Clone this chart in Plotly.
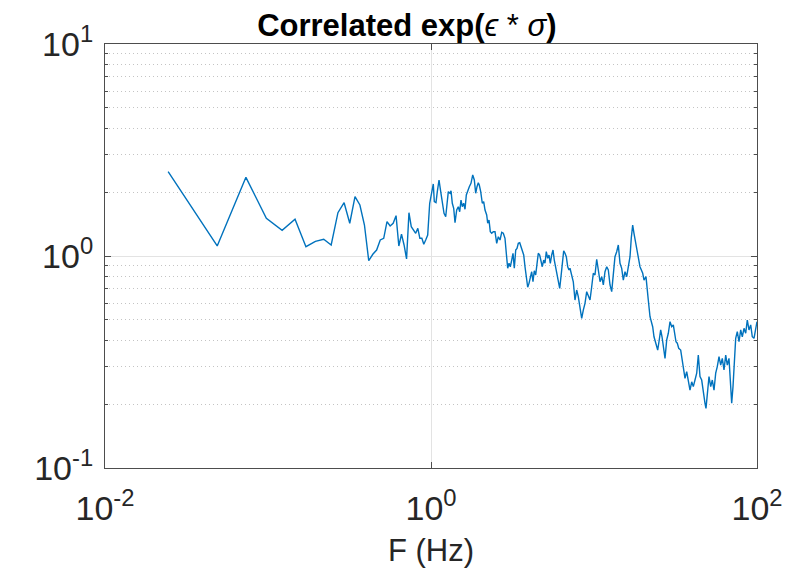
import plotly.graph_objects as go

# Low-frequency bins (Hz) and amplitudes
freq_low = [0.0244, 0.0488, 0.0732, 0.0977, 0.1221, 0.1465, 0.1709, 0.1953, 0.2197, 0.2441,
            0.2686, 0.2930, 0.3174, 0.3418, 0.3662, 0.3906, 0.4150, 0.4395, 0.4639, 0.4883,
            0.5127, 0.5371, 0.5615, 0.5859, 0.6104, 0.6348, 0.6592, 0.6836, 0.7080, 0.7324,
            0.7568, 0.7813, 0.8057, 0.8301, 0.8545, 0.8789, 0.9033, 0.9277]
amp_low = [2.50, 1.115, 2.35, 1.506, 1.322, 1.49, 1.106, 1.173, 1.199, 1.127,
           1.60, 1.784, 1.427, 1.905, 1.74, 1.40, 0.95, 1.019, 1.067, 1.19,
           1.212, 1.452, 1.385, 1.427, 1.55, 1.115, 1.266, 1.127, 0.968, 1.60,
           1.375, 1.326, 1.28, 1.351, 1.212, 1.212, 1.136, 1.19]

# Higher-frequency part (Hz) and amplitudes
freq_high = [0.9545, 0.9818, 1.010, 1.033, 1.048, 1.073, 1.093, 1.120, 1.147, 1.173,
             1.202, 1.231, 1.254, 1.277, 1.308, 1.327, 1.351, 1.378, 1.404, 1.438,
             1.471, 1.500, 1.528, 1.556, 1.587, 1.617, 1.647, 1.680, 1.718, 1.759,
             1.803, 1.844, 1.880, 1.915, 1.951, 1.978, 2.018, 2.064, 2.105, 2.145,
             2.196, 2.228, 2.269, 2.311, 2.357, 2.411,
             2.470, 2.530, 2.588, 2.651, 2.716, 2.777, 2.844, 2.897, 2.955, 3.010,
             3.065, 3.127, 3.185, 3.244, 3.309, 3.370, 3.433, 3.502, 3.566, 3.632,
             3.705, 3.773, 3.843, 3.920, 3.992, 4.066, 4.147, 4.224, 4.302, 4.388,
             4.469, 4.552, 4.643, 4.728, 4.816, 4.913, 5.004, 5.097, 5.200, 5.296,
             5.394, 5.502, 5.604, 5.707, 5.821, 5.929, 6.039, 6.160, 6.273, 6.390,
             6.518, 6.639, 6.763, 6.898, 7.025,
             7.125, 7.298, 7.464, 7.644, 7.831, 8.010, 8.205, 8.404, 8.597, 8.806,
             9.020, 9.226, 9.452, 9.681, 9.901, 10.14, 10.39, 10.63, 10.89, 11.15,
             11.41, 11.68, 11.97, 12.24, 12.54, 12.84, 13.14, 13.45, 13.78, 14.10,
             14.44, 14.79, 15.13, 15.50, 15.87, 16.23, 16.63, 16.93, 17.27, 17.59,
             17.92, 18.28, 18.70, 19.15,
             19.90, 20.27, 20.84, 21.23, 21.53, 22.06, 22.59, 22.91, 23.34, 24.01,
             24.59, 25.04, 25.65, 26.14, 26.62, 27.27, 27.93, 28.57, 29.27, 29.98,
             30.66, 31.27, 31.85, 32.43, 33.08, 34.03, 34.67, 35.31, 36.17, 37.04,
             37.89, 38.81, 39.76, 40.67, 41.65,
             42.67, 43.64, 44.70, 45.78, 46.83, 47.97, 48.65, 49.83, 50.76, 52.00,
             53.19, 54.48, 55.80, 57.07, 58.47, 59.88, 61.25, 62.74, 64.27, 65.74,
             67.33, 68.58, 69.95, 71.25, 72.57, 74.02, 75.71, 77.56, 79.43, 81.25,
             83.23, 85.25, 87.20, 89.31, 91.48, 93.58, 95.85, 98.17, 100.0]
amp_high = [1.256, 1.773, 2.048, 2.186, 1.804, 1.784, 2.011, 2.283, 2.011, 1.773,
            1.590, 1.532, 1.708, 2.011, 1.976, 2.032, 1.773, 1.679, 1.436, 1.648,
            1.708, 1.618, 1.837, 1.708, 1.773, 1.661, 1.940, 2.032, 2.123, 2.203,
            2.411, 2.283, 1.976, 2.123, 2.217, 2.162, 2.011, 1.773, 1.804, 1.648,
            1.561, 1.427, 1.479, 1.302, 1.280, 1.302,
            1.302, 1.148, 1.233, 1.190, 1.294, 1.280, 1.212, 1.030, 0.875, 0.924,
            0.890, 0.957, 1.030, 0.875, 1.067, 1.087, 1.148, 1.155, 1.106, 1.048,
            1.011, 0.890, 0.814, 0.712, 0.743, 0.799, 0.843, 0.756, 0.852, 0.814,
            0.907, 1.030, 1.011, 0.957, 0.890, 0.957, 0.924, 1.048, 0.975, 1.011,
            0.924, 1.011, 1.067, 0.957, 0.875, 0.829, 0.770, 0.704, 0.799, 0.890,
            1.059, 1.030, 0.992, 0.890, 0.859,
            0.875, 0.799, 0.756, 0.620, 0.691, 0.643, 0.567, 0.508, 0.556, 0.598,
            0.679, 0.643, 0.620, 0.716, 0.829, 0.814, 0.965, 0.859, 0.756, 0.799,
            0.730, 0.843, 0.890, 0.859, 0.730, 0.679, 0.814, 0.992, 1.048, 1.127,
            0.924, 0.875, 0.770, 0.843, 0.799, 0.890, 0.992, 1.212, 1.400, 1.280,
            1.190, 1.087, 0.975, 0.890,
            0.829, 0.770, 0.799, 0.716, 0.620, 0.517, 0.482, 0.464, 0.416, 0.388,
            0.360, 0.394, 0.448, 0.416, 0.367, 0.329, 0.402, 0.432, 0.490, 0.464,
            0.473, 0.424, 0.394, 0.388, 0.367, 0.360, 0.323, 0.290, 0.265, 0.285,
            0.260, 0.233, 0.255, 0.242, 0.260,
            0.280, 0.341, 0.270, 0.260, 0.225, 0.202, 0.191, 0.242, 0.270, 0.242,
            0.260, 0.233, 0.280, 0.301, 0.335, 0.306, 0.329, 0.290, 0.341, 0.306,
            0.329, 0.260, 0.202, 0.242, 0.335, 0.409, 0.440, 0.394, 0.448, 0.416,
            0.456, 0.432, 0.499, 0.448, 0.473, 0.416, 0.409, 0.464, 0.490]

assert len(freq_low) == len(amp_low)
assert len(freq_high) == len(amp_high)

x_tick_vals = [0.01, 1, 100]
x_tick_text = ["10<sup>-2</sup>", "10<sup>0</sup>", "10<sup>2</sup>"]
y_tick_vals = [0.1, 1, 10]
y_tick_text = ["10<sup>-1</sup>", "10<sup>0</sup>", "10<sup>1</sup>"]
y_minor_vals = [0.2, 0.3, 0.4, 0.5, 0.6, 0.7, 0.8, 0.9, 2, 3, 4, 5, 6, 7, 8, 9]

freq = freq_low + freq_high
amp = amp_low + amp_high

FONT = "Liberation Sans"
AXC = "#4d4d4d"

fig = go.Figure()
fig.add_trace(go.Scatter(x=freq, y=amp, mode="lines",
                         line=dict(color="#0072BD", width=1.4),
                         showlegend=False, hoverinfo="skip"))

# the page body adds an 8px offset; margins compensate for it
fig.update_layout(
    width=810, height=569,
    margin=dict(l=97, r=61, t=36, b=109, autoexpand=False),
    paper_bgcolor="white", plot_bgcolor="white",
    font=dict(family=FONT, color="#262626"),
    title=dict(text="<b>Correlated exp(</b><i>ϵ</i> * <i>σ</i><b>)</b>",
               x=0.463, xref="paper", xanchor="center",
               y=0.969, yref="container", yanchor="middle",
               font=dict(family=FONT, size=31, color="black")),
)

fig.update_xaxes(
    type="log", range=[-2, 2], automargin=False,
    tickvals=x_tick_vals, ticktext=x_tick_text,
    tickfont=dict(size=34, color="#262626"),
    ticklabelstandoff=10,
    ticks="inside", ticklen=6, tickcolor=AXC,
    showline=True, linecolor=AXC, linewidth=1, mirror="ticks",
    showgrid=True, gridcolor="#e3e3e3", gridwidth=1,
    zeroline=False,
    title=dict(text="F (Hz)", font=dict(size=31, color="#262626"), standoff=13),
)
fig.update_yaxes(
    type="log", range=[-1, 1], automargin=False,
    tickvals=y_tick_vals, ticktext=y_tick_text,
    tickfont=dict(size=34, color="#262626"),
    ticklabelstandoff=4,
    ticks="inside", ticklen=6, tickcolor=AXC,
    showline=True, linecolor=AXC, linewidth=1, mirror="ticks",
    showgrid=True, gridcolor="#e3e3e3", gridwidth=1,
    zeroline=False,
    minor=dict(tickvals=y_minor_vals,
               ticks="inside", ticklen=3, tickcolor=AXC,
               showgrid=True, gridcolor="#c4c4c4", griddash="1px,3px", gridwidth=1),
)

fig.write_html("out.html")
